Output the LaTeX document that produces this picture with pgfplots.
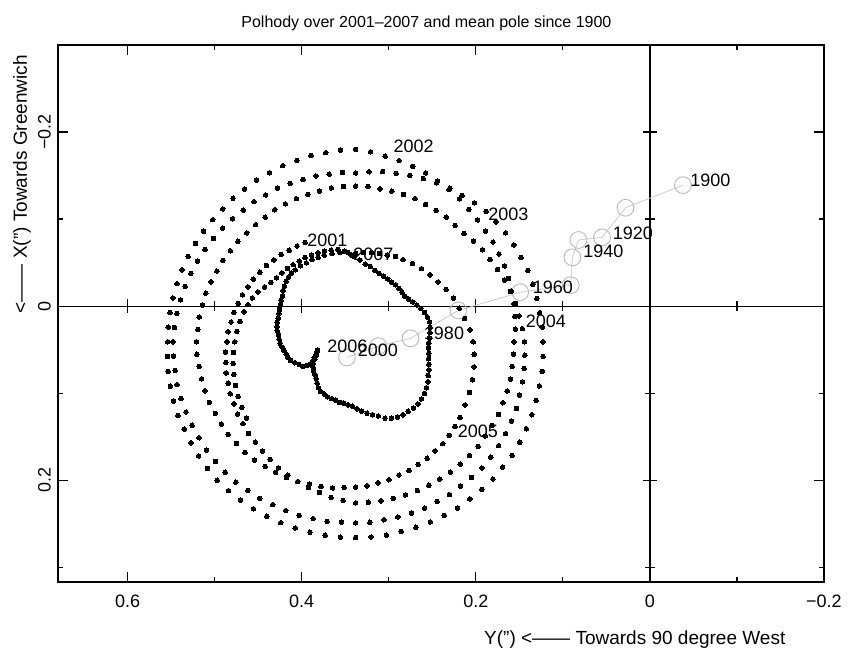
\documentclass[border=0pt]{standalone}
\usepackage{fontspec}
\setmainfont{Liberation Sans}
\usepackage{pgfplots}
\pgfplotsset{compat=1.18}
\begin{document}
\begin{tikzpicture}
\begin{axis}[
  at={(0,0)}, anchor=south west,
  width=383pt, height=268.5pt, scale only axis,
  xmin=-0.2, xmax=0.68, ymin=-0.30, ymax=0.317,
  x dir=reverse, y dir=reverse,
  axis line style={line width=0.6pt},
  xtick={-0.2,0,0.2,0.4,0.6}, xticklabels={−0.2,0,0.2,0.4,0.6},
  minor xtick={-0.1,0.1,0.3,0.5},
  ytick={-0.2,0,0.2}, yticklabels={−0.2,0,0.2},
  minor ytick={-0.3,-0.1,0.1,0.3},
  tick align=inside, tick pos=both,
  major tick length=5pt, minor tick length=2.5pt,
  tick style={black, line width=0.6pt},
  xticklabel pos=lower, yticklabel pos=lower,
  xticklabel style={font=\fontsize{9}{11}\selectfont, yshift=-3pt},
  yticklabel style={font=\fontsize{9}{11}\selectfont, rotate=90, anchor=south},
  clip mode=individual,
]
% zero lines
\draw[line width=0.6pt] (axis cs:0,-0.30) -- (axis cs:0,0.317);
\draw[line width=0.6pt] (axis cs:-0.2,0) -- (axis cs:0.68,0);
\addplot[only marks, mark=|, mark size=3.5pt, mark options={line width=0.6pt}] coordinates {(0.6,0) (0.4,0) (0.2,0)};
\addplot[only marks, mark=|, mark size=2.5pt, mark options={line width=0.6pt}] coordinates {(0.5,0) (0.3,0) (0.1,0) (-0.1,0)};
\addplot[only marks, mark=-, mark size=3.5pt, mark options={line width=0.6pt}] coordinates {(0,-0.2) (0,0.2)};
\addplot[only marks, mark=-, mark size=2.5pt, mark options={line width=0.6pt}] coordinates {(0,-0.1) (0,0.1) (0,0.3)};
% mean pole since 1900
\addplot[gray!40, line width=0.4pt, mark=o, mark size=4.2pt, mark options={gray!55, line width=0.45pt}] coordinates {
(-0.038,-0.139) (0.028,-0.113) (0.055,-0.079) (0.082,-0.076) (0.089,-0.056) (0.091,-0.024)
(0.149,-0.016) (0.220,0.005) (0.275,0.037) (0.312,0.046) (0.348,0.059)};
% labels
\begin{scope}[every node/.style={anchor=west, inner sep=0pt, font=\fontsize{9}{11}\selectfont}]
\node at (axis cs:0.394,-0.076) {2001};
\node at (axis cs:0.295,-0.184) {2002};
\node at (axis cs:0.186,-0.106) {2003};
\node at (axis cs:0.143,0.017) {2004};
\node at (axis cs:0.221,0.144) {2005};
\node at (axis cs:0.371,0.046) {2006};
\node at (axis cs:0.341,-0.060) {2007};
\node at (axis cs:-0.046,-0.145) {1900};
\node at (axis cs:0.043,-0.084) {1920};
\node at (axis cs:0.077,-0.063) {1940};
\node at (axis cs:0.135,-0.022) {1960};
\node at (axis cs:0.260,0.031) {1980};
\node at (axis cs:0.336,0.051) {2000};
\end{scope}
\node[font=\fontsize{8}{10}\selectfont] at ([yshift=11pt]axis description cs:0.481,1) {Polhody over 2001–2007 and mean pole since 1900};
\node[font=\fontsize{9.5}{11}\selectfont] at ([yshift=-29pt]axis description cs:0.753,0) {Y(") <—— Towards 90 degree West};
\node[font=\fontsize{9.5}{11}\selectfont, rotate=90] at ([xshift=-18pt]axis description cs:0,0.741) {<—— X(") Towards Greenwich};
\end{axis}
% polhody 2001-2007, polar coordinates (angle, radius) about the mean centre (0.338, 0.041)
\begin{axis}[
  at={(0,0)}, anchor=south west,
  width=383pt, height=268.5pt, scale only axis,
  xmin=-0.342, xmax=0.538, ymin=-0.276, ymax=0.341,
  hide axis,
]
\addplot[only marks, mark=*, mark size=1.15pt, mark options={fill=black, draw=black, line width=0pt}, data cs=polar] coordinates {
(117,0.128) (121.5,0.129) (126,0.130) (130.5,0.132)
(135,0.133) (139.5,0.135) (144,0.136) (148.5,0.138) (153,0.139) (157.5,0.141) (162,0.142) (166.5,0.144) (171,0.145) (175.5,0.147)
(180,0.148) (184.5,0.150) (189,0.151) (193.5,0.153) (198,0.154) (202.5,0.156) (207,0.157) (211.5,0.159) (216,0.160) (220.5,0.162)
(225,0.163) (229.5,0.165) (234,0.167) (238.5,0.170) (243,0.172) (247.5,0.174) (252,0.176) (256.5,0.178) (261,0.181) (265.5,0.183)
(270,0.185) (274.5,0.185) (279,0.185) (283.5,0.185) (288,0.185) (292.5,0.185) (297,0.185) (301.5,0.185) (306,0.185) (310.5,0.185)
(315,0.185) (319.5,0.185) (324,0.184) (328.5,0.184) (333,0.184) (337.5,0.183) (342,0.183) (346.5,0.183) (351,0.182) (355.5,0.182)
(0,0.182) (4.5,0.184) (9,0.185) (13.5,0.187) (18,0.188) (22.5,0.190) (27,0.192) (31.5,0.193) (36,0.195) (40.5,0.196)
(45,0.198) (49.5,0.200) (54,0.203) (58.5,0.205) (63,0.207) (67.5,0.210) (72,0.212) (76.5,0.214) (81,0.216) (85.5,0.219)
(90,0.221) (94.5,0.221) (99,0.220) (103.5,0.220) (108,0.219) (112.5,0.219) (117,0.218) (121.5,0.218) (126,0.217) (130.5,0.217)
(135,0.216) (139.5,0.216) (144,0.216) (148.5,0.216) (153,0.216) (157.5,0.216) (162,0.216) (166.5,0.216) (171,0.216) (175.5,0.216)
(180,0.216) (184.5,0.217) (189,0.218) (193.5,0.219) (198,0.220) (202.5,0.221) (207,0.221) (211.5,0.222) (216,0.223) (220.5,0.224)
(225,0.225) (229.5,0.225) (234,0.225) (238.5,0.225) (243,0.225) (247.5,0.225) (252,0.225) (256.5,0.225) (261,0.225) (265.5,0.225)
(270,0.225) (274.5,0.225) (279,0.225) (283.5,0.224) (288,0.224) (292.5,0.224) (297,0.224) (301.5,0.224) (306,0.223) (310.5,0.223)
(315,0.223) (319.5,0.222) (324,0.222) (328.5,0.221) (333,0.220) (337.5,0.219) (342,0.218) (346.5,0.217) (351,0.217) (355.5,0.216)
(0,0.215) (4.5,0.215) (9,0.214) (13.5,0.214) (18,0.214) (22.5,0.214) (27,0.213) (31.5,0.213) (36,0.213) (40.5,0.212)
(45,0.212) (49.5,0.210) (54,0.208) (58.5,0.207) (63,0.205) (67.5,0.203) (72,0.201) (76.5,0.199) (81,0.198) (85.5,0.196)
(90,0.194) (94.5,0.195) (99,0.195) (103.5,0.196) (108,0.196) (112.5,0.197) (117,0.198) (121.5,0.198) (126,0.199) (130.5,0.199)
(135,0.200) (139.5,0.201) (144,0.202) (148.5,0.203) (153,0.204) (157.5,0.205) (162,0.206) (166.5,0.207) (171,0.208) (175.5,0.209)
(180,0.210) (184.5,0.210) (189,0.210) (193.5,0.211) (198,0.211) (202.5,0.211) (207,0.211) (211.5,0.211) (216,0.212) (220.5,0.212)
(225,0.212) (229.5,0.212) (234,0.211) (238.5,0.211) (243,0.210) (247.5,0.210) (252,0.210) (256.5,0.209) (261,0.209) (265.5,0.208)
(270,0.208) (274.5,0.208) (279,0.207) (283.5,0.207) (288,0.207) (292.5,0.207) (297,0.206) (301.5,0.206) (306,0.205) (310.5,0.205)
(315,0.205) (319.5,0.204) (324,0.203) (328.5,0.202) (333,0.201) (337.5,0.200) (342,0.198) (346.5,0.197) (351,0.196) (355.5,0.195)
(0,0.194) (4.5,0.192) (9,0.190) (13.5,0.189) (18,0.187) (22.5,0.185) (27,0.183) (31.5,0.181) (36,0.180) (40.5,0.178)
(45,0.176) (49.5,0.176) (54,0.177) (58.5,0.177) (63,0.177) (67.5,0.178) (72,0.178) (76.5,0.178) (81,0.178) (85.5,0.179)
(90,0.179) (94.5,0.179) (99,0.179) (103.5,0.178) (108,0.178) (112.5,0.178) (117,0.178) (121.5,0.178) (126,0.177) (130.5,0.177)
(135,0.177) (139.5,0.178) (144,0.178) (148.5,0.179) (153,0.179) (157.5,0.180) (162,0.181) (166.5,0.181) (171,0.182) (175.5,0.182)
(180,0.183) (184.5,0.183) (189,0.182) (193.5,0.182) (198,0.182) (202.5,0.182) (207,0.181) (211.5,0.181) (216,0.181) (220.5,0.180)
(225,0.180) (229.5,0.179) (234,0.177) (238.5,0.176) (243,0.175) (247.5,0.174) (252,0.172) (256.5,0.171) (261,0.170) (265.5,0.168)
(270,0.167) (274.5,0.166) (279,0.164) (283.5,0.163) (288,0.161) (292.5,0.160) (297,0.158) (301.5,0.157) (306,0.155) (310.5,0.154)
(315,0.152) (319.5,0.150)
(324,0.148) (330,0.145) (336,0.143) (342,0.141) (348,0.139) (354,0.137) (0,0.135) (6,0.132) (12,0.128) (18,0.125)
(24,0.123) (30,0.120) (36,0.117) (42,0.115) (48,0.113) (54,0.111) (60,0.109) (65,0.108) (70,0.106) (75,0.105)
(80,0.104) (85,0.103) (90,0.102) (95,0.103) (100,0.104) (105,0.105) (110,0.106) (114,0.106) (118,0.107) (122,0.107)
(126,0.108) (130,0.108) (133,0.108) (136,0.107) (139,0.106) (142,0.104) (145,0.102) (148,0.099) (151,0.098) (154,0.096)
(157,0.095) (160,0.094) (163,0.093) (166,0.093) (169,0.092) (172,0.091) (175,0.089) (178,0.088) (181,0.087) (184,0.085)
(187,0.083) (190,0.081) (193,0.080) (196,0.078) (199,0.074) (202,0.070) (205,0.067) (206,0.062) (206,0.058) (204,0.054)
(201,0.051) (198,0.048) (194,0.046) (192,0.045)
(195,0.046) (199,0.048) (203,0.051) (207,0.055) (211,0.057) (215,0.059) (219,0.060) (223,0.062) (227,0.065) (231,0.068)
(235,0.070) (239,0.070) (243,0.071) (247,0.071) (251,0.071) (255,0.072) (259,0.072) (263,0.073) (267,0.074) (271,0.077)
(275,0.080) (279,0.083) (283,0.086) (287,0.089) (291,0.094) (295,0.097) (299,0.099) (303,0.100) (307,0.100) (311,0.101)
(315,0.101) (319,0.100) (323,0.099) (327,0.097) (331,0.095) (335,0.092) (339,0.090) (343,0.088) (347,0.086) (351,0.085)
(355,0.084) (359,0.084) (3,0.085) (7,0.086) (11,0.087) (15,0.088) (19,0.087) (23,0.086) (27,0.084) (31,0.082)
(35,0.080) (39,0.078) (43,0.077) (47,0.078) (51,0.079) (55,0.080) (59,0.080) (63,0.081) (67,0.082) (71,0.083)
(75,0.085) (79,0.088) (83,0.090) (87,0.094) (91,0.098) (93,0.100)
(97,0.105) (101,0.108) (105,0.109) (109,0.110) (113,0.111) (117,0.112) (121,0.113) (125,0.113) (129,0.114) (133,0.115)
(137,0.116) (141,0.117) (145,0.119) (149,0.122) (153,0.126) (157,0.129) (161,0.131) (165,0.133) (170,0.135) (175,0.137)
(180,0.139) (185,0.141) (190,0.143) (195,0.145) (200,0.147) (205,0.149) (210,0.151) (215,0.153)
};
\end{axis}
\pgfresetboundingbox
\path[use as bounding box] ([shift={(-29pt,-38.5pt)}]current axis.south west) rectangle ([shift={(14.5pt,22.5pt)}]current axis.north east);
\end{tikzpicture}
\end{document}
